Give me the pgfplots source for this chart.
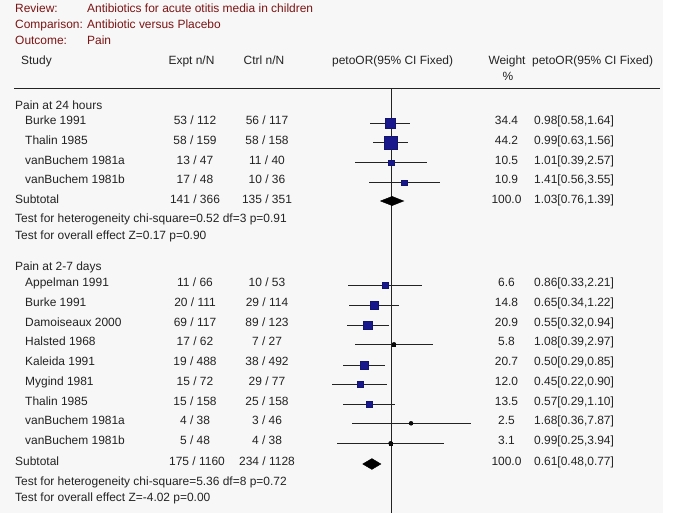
\documentclass[border=0pt]{standalone}
\usepackage{fontspec}
\setmainfont{Liberation Sans}
\usepackage{pgfplots}
\usepackage{pgfplotstable}
\pgfplotsset{compat=1.18}
\definecolor{txt}{RGB}{35,35,35}
\definecolor{hdr}{RGB}{125,20,20}
\definecolor{bg}{RGB}{247,247,247}

\pgfplotstableread{
y or lo hi s c
123.0 0.98 0.58 1.64 5.0 0
142.7 0.99 0.63 1.56 6.3 0
162.7 1.01 0.39 2.57 2.7 0
182.7 1.41 0.56 3.55 2.7 0
}\painA

\pgfplotstableread{
y or lo hi s c
285.0 0.86 0.33 2.21 2.8 0
305.0 0.65 0.34 1.22 4.2 0
325.0 0.55 0.32 0.94 4.3 0
344.3 1.08 0.39 2.97 1.6 1
365.0 0.50 0.29 0.85 4.2 0
384.3 0.45 0.22 0.90 2.8 0
404.3 0.57 0.29 1.10 3.0 0
423.3 1.68 0.36 7.87 1.3 1
443.3 0.99 0.25 3.94 1.4 1
}\painB

\begin{document}
\begin{tikzpicture}
\fill[bg] (0,0) rectangle (663bp,513bp);
\fill[white] (663bp,0) rectangle (685bp,513bp);
\begin{axis}[at={(0,0)}, anchor=south west, scale only axis,
  width=685bp, height=513bp, xmode=log, xmin=4.043e-5, xmax=2011,
  ymin=0, ymax=513, y dir=reverse, hide axis, clip=false,
  colormap={sqmap}{rgb255=(24,24,140) rgb255=(10,10,10)},
  point meta min=0, point meta max=1]
\addplot[color=txt, line width=0.9bp] coordinates {(1,88.5) (1,513)};
\addplot[only marks, mark=none, error bars/.cd, x dir=both, x explicit, error mark=none,
  error bar style={color=txt, line width=0.9bp}]
  table[x=or, y=y, x error plus expr=\thisrow{hi}-\thisrow{or}, x error minus expr=\thisrow{or}-\thisrow{lo}] {\painA};
\addplot[only marks, mark=none, error bars/.cd, x dir=both, x explicit, error mark=none,
  error bar style={color=txt, line width=0.9bp}]
  table[x=or, y=y, x error plus expr=\thisrow{hi}-\thisrow{or}, x error minus expr=\thisrow{or}-\thisrow{lo}] {\painB};
\addplot[scatter, only marks, mark=square*, point meta=explicit,
  visualization depends on={\thisrow{s}\as\msz},
  scatter/@pre marker code/.append style={/tikz/mark size=\msz}]
  table[x=or, y=y, meta=c] {\painA};
\addplot[scatter, only marks, mark=square*, point meta=explicit,
  visualization depends on={\thisrow{s}\as\msz},
  scatter/@pre marker code/.append style={/tikz/mark size=\msz}]
  table[x=or, y=y, meta=c] {\painB};
\addplot[fill=black, draw=black] coordinates {(0.76,201) (1.03,196.4) (1.39,201) (1.03,205.6) (0.76,201)};
\addplot[fill=black, draw=black] coordinates {(0.48,464) (0.61,458.6) (0.77,464) (0.61,469.4) (0.48,464)};
\end{axis}
\begin{scope}[shift={(0,513bp)}, x=1bp, y=-1bp,
  every node/.style={inner sep=0pt, text=txt, font=\fontsize{12}{14}\selectfont}]
\node[anchor=base west, text=hdr] at (15,12.3) {Review:};
\node[anchor=base west, text=hdr] at (87,12.3) {Antibiotics for acute otitis media in children};
\node[anchor=base west, text=hdr] at (15,29) {Comparison:};
\node[anchor=base west, text=hdr] at (87,29) {Antibiotic versus Placebo};
\node[anchor=base west, text=hdr] at (15,45) {Outcome:};
\node[anchor=base west, text=hdr] at (87,45) {Pain};
\node[anchor=base west] at (21,65) {Study};
\node[anchor=base] at (191.5,65) {Expt n/N};
\node[anchor=base] at (264,65) {Ctrl n/N};
\node[anchor=base west] at (332,65) {petoOR(95\% CI Fixed)};
\node[anchor=base] at (507,65) {Weight};
\node[anchor=base] at (508,81) {\%};
\node[anchor=base west] at (532,65) {petoOR(95\% CI Fixed)};
\draw[txt, line width=0.9bp] (14,88.5) -- (660,88.5);
% group 1
\node[anchor=base west] at (15,110) {Pain at 24 hours};
\foreach \yy/\st/\ex/\ct/\w/\ci in {
  {125}/{Burke 1991}/{53 / 112}/{56 / 117}/{34.4}/{0.98[0.58,1.64]},
  {144.5}/{Thalin 1985}/{58 / 159}/{58 / 158}/{44.2}/{0.99[0.63,1.56]},
  {164.5}/{vanBuchem 1981a}/{13 / 47}/{11 / 40}/{10.5}/{1.01[0.39,2.57]},
  {184}/{vanBuchem 1981b}/{17 / 48}/{10 / 36}/{10.9}/{1.41[0.56,3.55]}} {
  \node[anchor=base west] at (25,\yy) {\st};
  \node[anchor=base] at (195,\yy) {\ex};
  \node[anchor=base] at (267,\yy) {\ct};
  \node[anchor=base] at (506.5,\yy) {\w};
  \node[anchor=base west] at (534,\yy) {\ci};
}
\node[anchor=base west] at (15,203.3) {Subtotal};
\node[anchor=base] at (195,203.3) {141 / 366};
\node[anchor=base] at (267,203.3) {135 / 351};
\node[anchor=base] at (506.5,203.3) {100.0};
\node[anchor=base west] at (534,203.3) {1.03[0.76,1.39]};
\node[anchor=base west] at (15,222.8) {Test for heterogeneity chi-square=0.52 df=3 p=0.91};
\node[anchor=base west] at (15,240) {Test for overall effect Z=0.17 p=0.90};
% group 2
\node[anchor=base west] at (15,271) {Pain at 2-7 days};
\foreach \yy/\st/\ex/\ct/\w/\ci in {
  {286.7}/{Appelman 1991}/{11 / 66}/{10 / 53}/{6.6}/{0.86[0.33,2.21]},
  {306.5}/{Burke 1991}/{20 / 111}/{29 / 114}/{14.8}/{0.65[0.34,1.22]},
  {326.3}/{Damoiseaux 2000}/{69 / 117}/{89 / 123}/{20.9}/{0.55[0.32,0.94]},
  {346}/{Halsted 1968}/{17 / 62}/{7 / 27}/{5.8}/{1.08[0.39,2.97]},
  {365.8}/{Kaleida 1991}/{19 / 488}/{38 / 492}/{20.7}/{0.50[0.29,0.85]},
  {385.5}/{Mygind 1981}/{15 / 72}/{29 / 77}/{12.0}/{0.45[0.22,0.90]},
  {405.3}/{Thalin 1985}/{15 / 158}/{25 / 158}/{13.5}/{0.57[0.29,1.10]},
  {425}/{vanBuchem 1981a}/{4 / 38}/{3 / 46}/{2.5}/{1.68[0.36,7.87]},
  {444.8}/{vanBuchem 1981b}/{5 / 48}/{4 / 38}/{3.1}/{0.99[0.25,3.94]}} {
  \node[anchor=base west] at (25,\yy) {\st};
  \node[anchor=base] at (195,\yy) {\ex};
  \node[anchor=base] at (267,\yy) {\ct};
  \node[anchor=base] at (506.5,\yy) {\w};
  \node[anchor=base west] at (534,\yy) {\ci};
}
\node[anchor=base west] at (15,465.5) {Subtotal};
\node[anchor=base] at (197,465.5) {175 / 1160};
\node[anchor=base] at (267,465.5) {234 / 1128};
\node[anchor=base] at (506.5,465.5) {100.0};
\node[anchor=base west] at (534,465.5) {0.61[0.48,0.77]};
\node[anchor=base west] at (15,485.5) {Test for heterogeneity chi-square=5.36 df=8 p=0.72};
\node[anchor=base west] at (15,502) {Test for overall effect Z=-4.02 p=0.00};
\end{scope}
\end{tikzpicture}
\end{document}
